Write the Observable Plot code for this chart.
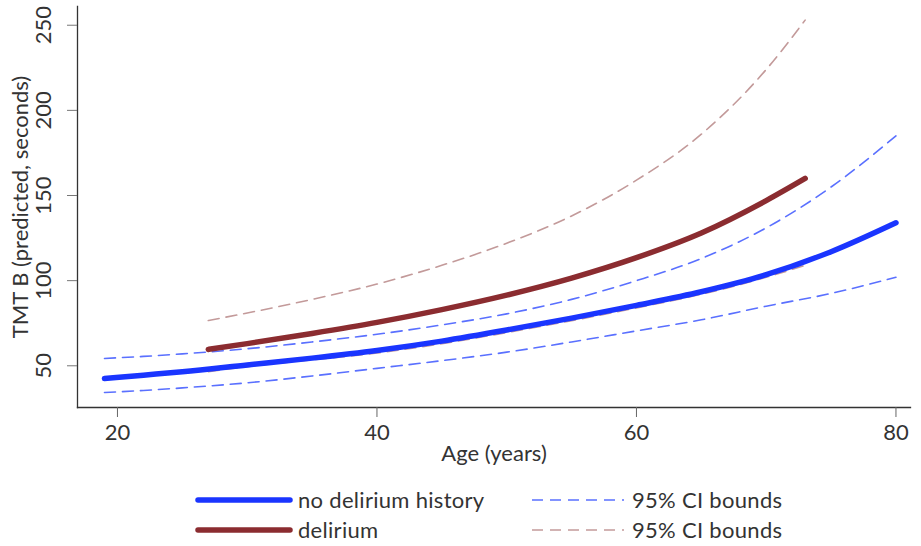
<!DOCTYPE html>
<html>
<head>
<meta charset="utf-8">
<script src="https://cdn.jsdelivr.net/npm/d3@7"></script>
<script src="https://cdn.jsdelivr.net/npm/@observablehq/plot@0.6"></script>
<style>
  html, body { margin: 0; padding: 0; background: #fff; }
  #wrap { position: relative; width: 921px; height: 546px; font-family: Lato, "Open Sans", sans-serif; }
  #legend { position: absolute; left: 0; top: 0; }
</style>
</head>
<body>
<div id="wrap"></div>
<script>
// ---- data ----
const noDelAge   = [19, 22, 25, 30, 35, 40, 45, 50, 55, 60, 65, 70, 75, 80];
const noDelFit   = [42.5, 44.5, 46.5, 50.5, 54.5, 59, 64.5, 71, 78, 85.5, 93.5, 103.5, 117, 134];
const noDelUpper = [54.3, 55.5, 57, 60, 64, 68.5, 74, 80.5, 89, 100, 113, 131, 155, 185];
const noDelLower = [34.3, 35.5, 37, 40, 44, 48.5, 53, 58, 64, 70.5, 77, 85, 92.5, 102];

const delAge   = [27, 30, 35, 40, 45, 50, 55, 60, 65, 70, 73];
const delFit   = [59.6, 63, 69, 75.5, 83, 91.5, 101.5, 113.5, 128, 147, 160];
const delUpper = [76.6, 81, 89, 98, 109, 122, 138, 159, 186, 224, 253];
const delLower = [46.5, 49.5, 53.5, 57.5, 63, 69.5, 76.5, 84, 92, 102, 109];

const xTicks = [20, 40, 60, 80];
const yTicks = [50, 100, 150, 200, 250];
const xLabel = "Age (years)";
const yLabel = "TMT B (predicted, seconds)";

const legendLabels = ["no delirium history", "delirium", "95% CI bounds", "95% CI bounds"];

const colors = {
  blue: "#1a35ff", maroon: "#8b2c30",
  blueDash: "#5a70ff", maroonDash: "#c39a9a"
};

const toRows = (ages, vals) => ages.map((a, i) => ({age: a, v: vals[i]}));

const font = "Lato, 'Open Sans', sans-serif";
const fs = 22;
const plot = Plot.plot({
  width: 921,
  height: 466,
  marginLeft: 77,
  marginRight: 11,
  marginTop: 6,
  marginBottom: 59,
  style: {fontFamily: font, fontSize: fs + "px", color: "#333", background: "#fff"},
  x: {domain: [16.92, 81.12]},
  y: {domain: [25.5, 261]},
  marks: [
    Plot.frame({anchor: "left", stroke: "#333", strokeWidth: 1.3}),
    Plot.frame({anchor: "bottom", stroke: "#333", strokeWidth: 1.3}),
    Plot.axisX({ticks: xTicks, tickSize: 10, tickPadding: 7, label: null, stroke: "#666", fill: "#333", fontSize: fs}),
    Plot.axisY({ticks: yTicks, tickSize: 10, tickPadding: 17, tickRotate: -90, label: null, stroke: "#777", fill: "#333", textAnchor: "middle", fontSize: fs}),
    Plot.text([xLabel], {frameAnchor: "bottom", dy: 46, text: d => d, fill: "#333", fontSize: fs, lineAnchor: "middle", textAnchor: "middle"}),
    Plot.text([yLabel], {frameAnchor: "left", dx: -57, rotate: -90, text: d => d, fill: "#333", fontSize: fs, lineAnchor: "middle", textAnchor: "middle"}),
    Plot.line(toRows(noDelAge, noDelUpper), {x: "age", y: "v", stroke: colors.blueDash, strokeWidth: 1.6, strokeDasharray: "11,7", curve: "monotone-x"}),
    Plot.line(toRows(noDelAge, noDelLower), {x: "age", y: "v", stroke: colors.blueDash, strokeWidth: 1.6, strokeDasharray: "11,7", curve: "monotone-x"}),
    Plot.line(toRows(delAge, delUpper), {x: "age", y: "v", stroke: colors.maroonDash, strokeWidth: 1.6, strokeDasharray: "11,7", curve: "monotone-x"}),
    Plot.line(toRows(delAge, delLower), {x: "age", y: "v", stroke: colors.maroonDash, strokeWidth: 1.6, strokeDasharray: "11,7", curve: "monotone-x"}),
    Plot.line(toRows(delAge, delFit), {x: "age", y: "v", stroke: colors.maroon, strokeWidth: 5.5, curve: "monotone-x"}),
    Plot.line(toRows(noDelAge, noDelFit), {x: "age", y: "v", stroke: colors.blue, strokeWidth: 5.5, curve: "monotone-x"})
  ]
});
document.getElementById("wrap").appendChild(plot);

// ---- legend below the plot ----
const leg = d3.select("#wrap").append("svg")
  .attr("id", "legend").attr("width", 921).attr("height", 546)
  .style("pointer-events", "none");
const items = [
  {label: legendLabels[0], color: colors.blue, w: 5.5, dash: null, col: 0, row: 0},
  {label: legendLabels[1], color: colors.maroon, w: 5.5, dash: null, col: 0, row: 1},
  {label: legendLabels[2], color: colors.blueDash, w: 1.6, dash: "11,7", col: 1, row: 0},
  {label: legendLabels[3], color: colors.maroonDash, w: 1.6, dash: "11,7", col: 1, row: 1}
];
const colX = [198, 532], swW = 92, rowY = [500, 530];
const g = leg.selectAll("g").data(items).join("g")
  .attr("transform", d => `translate(${colX[d.col]},${rowY[d.row]})`);
g.append("line").attr("x1", 0).attr("x2", swW).attr("y1", 0).attr("y2", 0)
  .attr("stroke", d => d.color).attr("stroke-width", d => d.w)
  .attr("stroke-dasharray", d => d.dash).attr("stroke-linecap", d => d.dash ? "butt" : "round");
g.append("text").attr("x", swW + 8).attr("y", 0).attr("dy", "0.35em")
  .attr("font-family", font).attr("font-size", fs).attr("fill", "#333")
  .attr("letter-spacing", "0.3px")
  .text(d => d.label);
</script>
</body>
</html>
